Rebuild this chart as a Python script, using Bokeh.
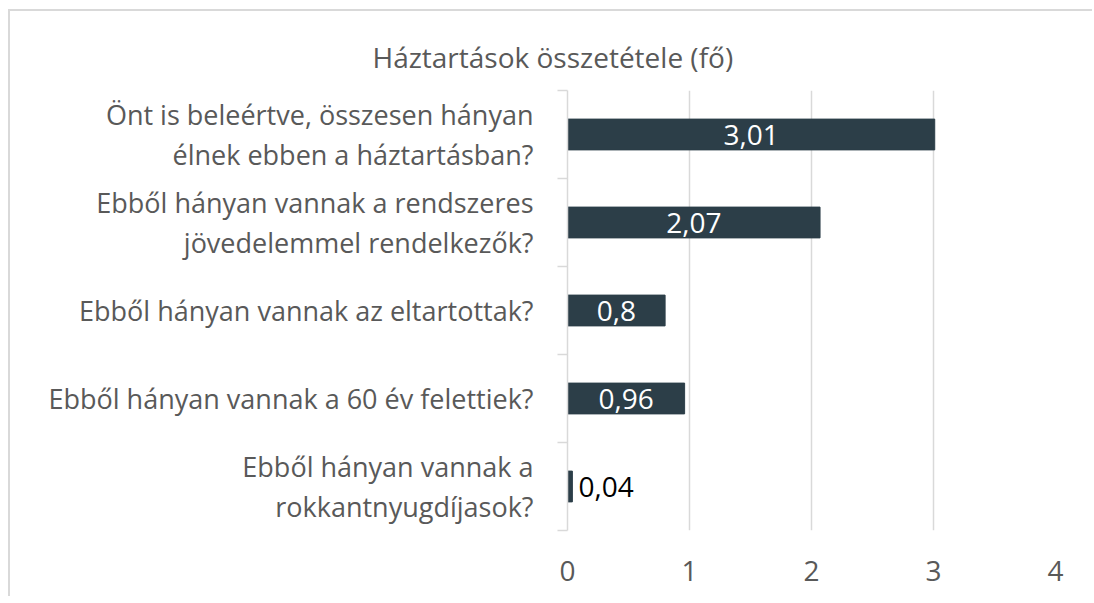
from bokeh.plotting import figure
from bokeh.models import (Range1d, LinearAxis, FixedTicker, ColumnDataSource, LabelSet)
from bokeh.core.properties import value
from bokeh.embed import file_html
from bokeh.resources import INLINE

# ---- data ----
categories = [
    "Önt is beleértve, összesen hányan\nélnek ebben a háztartásban?",
    "Ebből hányan vannak a rendszeres\njövedelemmel rendelkezők?",
    "Ebből hányan vannak az eltartottak?",
    "Ebből hányan vannak a 60 év felettiek?",
    "Ebből hányan vannak a\nrokkantnyugdíjasok?",
]
values = [3.01, 2.07, 0.8, 0.96, 0.04]
value_labels = ["3,01", "2,07", "0,8", "0,96", "0,04"]
x_ticks = [0, 1, 2, 3, 4]
title_text = "Háztartások összetétele (fő)"

FONT = "Open Sans"
BAR = "#2c3e48"
GRID = "#d9d9d9"
TXT = "#595959"

n = len(categories)
ypos = [n - 0.5 - i for i in range(n)]          # first category on top
bounds = list(range(n + 1))

p = figure(width=1084, height=587, output_backend="svg", toolbar_location=None,
           y_range=Range1d(0, n), x_range=Range1d(0, 4),
           x_axis_location=None, y_axis_location=None,
           min_border_left=557, min_border_right=39, min_border_top=79, min_border_bottom=68)
p.outline_line_color = None
p.background_fill_color = "white"
p.border_fill_color = "white"
p.styles = {"margin": "9px 0 0 8px", "border-top": "2px solid #d9d9d9", "border-left": "2px solid #d9d9d9"}

p.title.text = title_text
p.title.align = "left"
p.title.offset = -195
p.title.standoff = 30
p.title.text_font = FONT
p.title.text_font_size = "28px"
p.title.text_font_style = "normal"
p.title.text_color = TXT

y_axis = LinearAxis(ticker=FixedTicker(ticks=ypos, minor_ticks=bounds))
y_axis.major_label_overrides = {y: c for y, c in zip(ypos, categories)}
y_axis.axis_line_color = GRID
y_axis.axis_line_width = 1.5
y_axis.major_tick_line_color = None
y_axis.major_tick_out = 0
y_axis.major_tick_in = 0
y_axis.minor_tick_line_color = GRID
y_axis.minor_tick_line_width = 1.5
y_axis.minor_tick_out = 10
y_axis.minor_tick_in = 0
y_axis.major_label_text_font = FONT
y_axis.major_label_text_font_size = "27px"
y_axis.major_label_text_line_height = 1.1
y_axis.major_label_text_color = TXT
y_axis.major_label_standoff = 24
p.add_layout(y_axis, "left")

x_axis = LinearAxis(ticker=FixedTicker(ticks=x_ticks))
x_axis.axis_line_color = None
x_axis.major_tick_line_color = None
x_axis.minor_tick_line_color = None
x_axis.major_label_text_font = FONT
x_axis.major_label_text_font_size = "28px"
x_axis.major_label_text_color = TXT
x_axis.major_label_standoff = 24
p.add_layout(x_axis, "below")

p.xgrid.grid_line_color = GRID
p.xgrid.grid_line_width = 1.5
p.xgrid.ticker = FixedTicker(ticks=x_ticks)
p.ygrid.grid_line_color = None

inside = [v > 0.3 for v in values]
src = ColumnDataSource(dict(
    y=ypos, val=values, lab=value_labels,
    lx=[v / 2 if ins else v for v, ins in zip(values, inside)],
    align=["center" if ins else "left" for ins in inside],
    col=["white" if ins else "black" for ins in inside],
    off=[0 if ins else 6 for ins in inside],
))
p.hbar(y="y", right="val", left=0, height=0.35, source=src, fill_color=BAR, line_color=BAR)

labels = LabelSet(x="lx", y="y", text="lab", source=src, text_align="align", text_baseline="middle",
                  text_color="col", x_offset="off", text_font=value(FONT), text_font_size=value("28px"))
p.add_layout(labels)

open("out.html", "w").write(file_html(p, INLINE))
